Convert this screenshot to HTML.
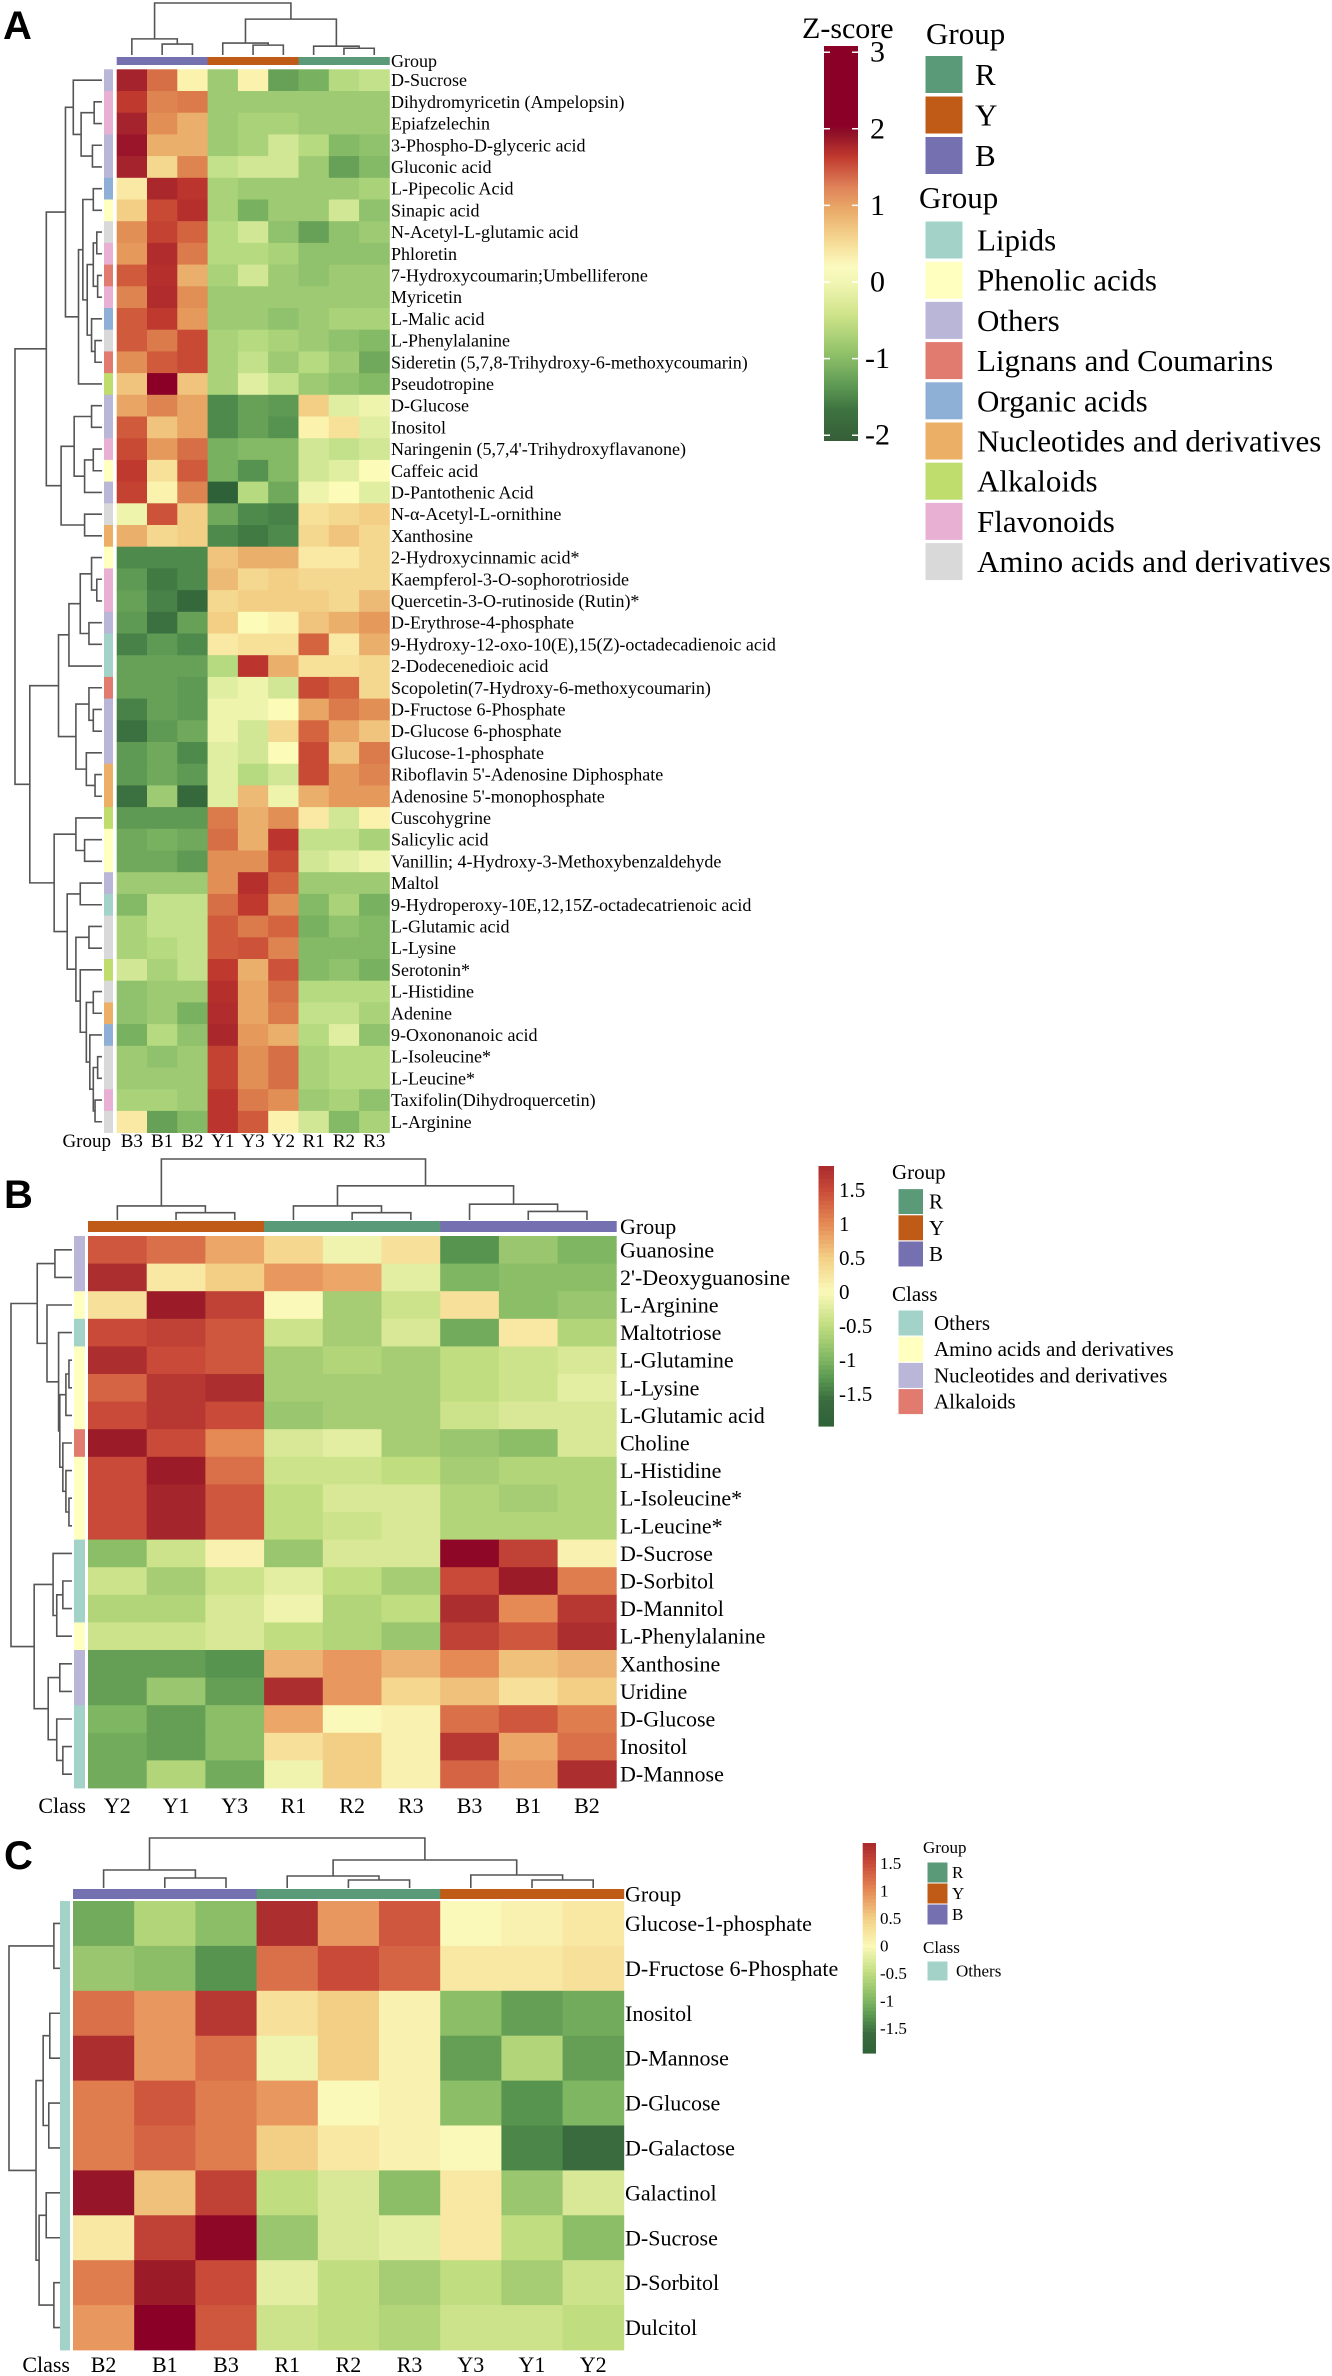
<!DOCTYPE html>
<html><head><meta charset="utf-8"><title>Metabolite heatmaps</title>
<style>
html,body{margin:0;padding:0;background:#fff;}
svg{display:block;}
text{font-family:"Liberation Serif","DejaVu Serif",serif;fill:#000;}
.pl{font-family:"Liberation Sans",Arial,sans-serif;font-weight:bold;}
</style></head>
<body>
<svg id="fig" xmlns="http://www.w3.org/2000/svg" width="1332" height="2376" viewBox="0 0 1332 2376">
<defs>
<linearGradient id="gradA" x1="0" y1="0" x2="0" y2="1">
<stop offset="0" stop-color="#8b0027"/><stop offset="0.2" stop-color="#8b0027"/>
<stop offset="0.22" stop-color="#8f1028"/><stop offset="0.28" stop-color="#c0392e"/>
<stop offset="0.36" stop-color="#e0855a"/><stop offset="0.42" stop-color="#eaae6a"/>
<stop offset="0.5" stop-color="#f6dd98"/><stop offset="0.56" stop-color="#fbfbc0"/>
<stop offset="0.6" stop-color="#f1f6b2"/><stop offset="0.68" stop-color="#cfe48a"/>
<stop offset="0.78" stop-color="#8fc168"/><stop offset="0.86" stop-color="#5e9a55"/>
<stop offset="0.92" stop-color="#3e7340"/><stop offset="1" stop-color="#355e38"/>
</linearGradient>
</defs>
<text class="pl" x="3" y="39" font-size="40">A</text>
<text class="pl" x="4" y="1208" font-size="40">B</text>
<text class="pl" x="4" y="1869" font-size="40">C</text>
</svg>
<script>
// ---------- Panel A data ----------
const aCols = ["B3","B1","B2","Y1","Y3","Y2","R1","R2","R3"];
const aColGroups = ["B","B","B","Y","Y","Y","R","R","R"];
const aRows = ["D-Sucrose","Dihydromyricetin (Ampelopsin)","Epiafzelechin","3-Phospho-D-glyceric acid","Gluconic acid","L-Pipecolic Acid","Sinapic acid","N-Acetyl-L-glutamic acid","Phloretin","7-Hydroxycoumarin;Umbelliferone","Myricetin","L-Malic acid","L-Phenylalanine","Sideretin (5,7,8-Trihydroxy-6-methoxycoumarin)","Pseudotropine","D-Glucose","Inositol","Naringenin (5,7,4'-Trihydroxyflavanone)","Caffeic acid","D-Pantothenic Acid","N-α-Acetyl-L-ornithine","Xanthosine","2-Hydroxycinnamic acid*","Kaempferol-3-O-sophorotrioside","Quercetin-3-O-rutinoside (Rutin)*","D-Erythrose-4-phosphate","9-Hydroxy-12-oxo-10(E),15(Z)-octadecadienoic acid","2-Dodecenedioic acid","Scopoletin(7-Hydroxy-6-methoxycoumarin)","D-Fructose 6-Phosphate","D-Glucose 6-phosphate","Glucose-1-phosphate","Riboflavin 5'-Adenosine Diphosphate","Adenosine 5'-monophosphate","Cuscohygrine","Salicylic acid","Vanillin; 4-Hydroxy-3-Methoxybenzaldehyde","Maltol","9-Hydroperoxy-10E,12,15Z-octadecatrienoic acid","L-Glutamic acid","L-Lysine","Serotonin*","L-Histidine","Adenine","9-Oxononanoic acid","L-Isoleucine*","L-Leucine*","Taxifolin(Dihydroquercetin)","L-Arginine"];
const aClass = ["Others","Flavonoids","Flavonoids","Others","Others","Organic acids","Phenolic acids","Amino acids and derivatives","Flavonoids","Lignans and Coumarins","Flavonoids","Organic acids","Amino acids and derivatives","Lignans and Coumarins","Alkaloids","Others","Others","Flavonoids","Phenolic acids","Others","Amino acids and derivatives","Nucleotides and derivatives","Phenolic acids","Flavonoids","Flavonoids","Others","Lipids","Lipids","Lignans and Coumarins","Others","Others","Others","Nucleotides and derivatives","Nucleotides and derivatives","Alkaloids","Phenolic acids","Phenolic acids","Others","Lipids","Amino acids and derivatives","Amino acids and derivatives","Alkaloids","Amino acids and derivatives","Nucleotides and derivatives","Organic acids","Amino acids and derivatives","Amino acids and derivatives","Flavonoids","Amino acids and derivatives"];
const aValues = [
[2.5,1.4,0.1,-0.7,0.1,-1.2,-1.0,-0.5,-0.4],
[2.0,1.2,1.3,-0.7,-0.7,-0.7,-0.7,-0.7,-0.7],
[2.5,1.1,0.8,-0.7,-0.6,-0.6,-0.7,-0.7,-0.7],
[2.7,0.8,0.8,-0.7,-0.6,-0.3,-0.5,-0.9,-0.8],
[2.5,0.4,1.2,-0.4,-0.3,-0.3,-0.7,-1.2,-0.9],
[0.2,2.4,2.1,-0.6,-0.7,-0.7,-0.7,-0.7,-0.6],
[0.5,1.8,2.2,-0.6,-1.0,-0.7,-0.7,-0.3,-0.8],
[1.1,1.9,1.5,-0.5,-0.3,-0.8,-1.2,-0.8,-0.7],
[1.0,2.3,1.3,-0.5,-0.5,-0.6,-0.8,-0.8,-0.8],
[1.6,2.2,0.8,-0.6,-0.3,-0.7,-0.8,-0.7,-0.7],
[1.2,2.3,1.1,-0.7,-0.7,-0.7,-0.7,-0.7,-0.7],
[1.6,2.0,1.0,-0.7,-0.7,-0.8,-0.7,-0.6,-0.6],
[1.6,1.3,1.8,-0.6,-0.5,-0.6,-0.7,-0.8,-0.9],
[1.1,1.6,1.8,-0.6,-0.4,-0.7,-0.5,-0.7,-1.1],
[0.6,3.0,0.6,-0.6,-0.2,-0.4,-0.7,-0.8,-0.9],
[0.9,1.2,0.9,-1.5,-1.2,-1.3,0.5,-0.2,-0.1],
[1.6,0.6,0.9,-1.5,-1.2,-1.4,0.1,0.3,-0.2],
[1.8,1.0,1.4,-1.0,-0.9,-0.9,-0.3,-0.4,-0.3],
[2.0,0.3,1.6,-1.0,-1.4,-0.9,-0.3,-0.2,0.0],
[1.9,0.1,1.2,-2.1,-0.5,-1.1,-0.1,0.0,-0.2],
[-0.1,1.7,0.5,-1.1,-1.5,-1.6,0.3,0.4,0.5],
[0.8,0.4,0.5,-1.5,-1.7,-1.5,0.4,0.6,0.4],
[-1.5,-1.5,-1.5,0.6,0.8,0.8,0.2,0.2,0.4],
[-1.3,-1.7,-1.5,0.7,0.4,0.5,0.4,0.4,0.4],
[-1.2,-1.6,-1.9,0.4,0.5,0.5,0.5,0.4,0.7],
[-1.3,-1.8,-1.2,0.5,0.0,0.1,0.6,0.8,1.0],
[-1.6,-1.3,-1.5,0.2,0.3,0.3,1.5,0.2,0.8],
[-1.2,-1.2,-1.2,-0.5,2.1,0.8,0.3,0.3,0.4],
[-1.2,-1.2,-1.3,-0.2,-0.1,-0.3,1.8,1.5,0.4],
[-1.6,-1.2,-1.3,-0.1,-0.1,0.0,0.9,1.3,1.1],
[-1.8,-1.3,-1.1,-0.1,-0.3,0.4,1.5,0.9,0.6],
[-1.3,-1.1,-1.5,-0.2,-0.3,0.0,1.8,0.6,1.3],
[-1.3,-1.1,-1.3,-0.2,-0.5,-0.3,1.8,1.0,1.2],
[-1.8,-0.7,-1.9,-0.2,0.7,-0.1,0.8,1.0,1.0],
[-1.3,-1.3,-1.3,1.3,0.8,1.1,0.2,-0.3,0.1],
[-1.1,-1.0,-1.1,1.4,0.8,2.1,-0.4,-0.4,-0.6],
[-1.1,-1.1,-1.3,1.1,1.1,1.8,-0.3,-0.2,-0.1],
[-0.7,-0.7,-0.7,1.1,2.2,1.5,-0.7,-0.7,-0.7],
[-0.9,-0.4,-0.4,1.4,2.0,1.1,-0.9,-0.6,-1.0],
[-0.6,-0.4,-0.4,1.6,1.3,1.5,-1.0,-0.8,-0.9],
[-0.6,-0.5,-0.4,1.6,1.7,1.2,-0.9,-0.9,-0.9],
[-0.3,-0.6,-0.4,2.0,0.8,1.7,-0.9,-0.8,-1.0],
[-0.8,-0.7,-0.7,2.2,0.9,1.4,-0.5,-0.5,-0.5],
[-0.8,-0.7,-1.0,2.3,0.9,1.3,-0.4,-0.4,-0.6],
[-1.0,-0.5,-0.8,2.4,1.0,0.8,-0.5,-0.2,-0.8],
[-0.7,-0.8,-0.7,1.9,1.1,1.4,-0.6,-0.5,-0.5],
[-0.7,-0.7,-0.7,1.9,1.1,1.4,-0.6,-0.5,-0.5],
[-0.6,-0.6,-0.7,2.1,1.3,1.1,-0.7,-0.6,-0.8],
[0.2,-1.2,-0.9,2.1,1.6,0.1,-0.3,-0.9,-0.6]];
const aColTree = [1.0,[0.31,0,[0.21,1,2]],[0.69,[0.23,3,[0.19,4,5]],[0.17,6,[0.13,7,8]]]];
const aRowTree = [1.0,
  [0.64,[0.42,[0.33,0,[0.24,[0.09,1,2],[0.11,3,4]]],[0.27,[0.22,[0.1,5,6],[0.17,[0.1,[0.06,7,8],[0.05,9,10]],[0.12,11,[0.08,12,13]]]],14]],
        [0.47,[0.32,[0.12,15,16],[0.2,[0.1,17,18],19]],[0.2,20,21]]],
  [0.83,[0.5,[0.38,[0.25,[0.12,22,[0.06,23,24]],[0.15,25,26]],27],[0.3,[0.15,28,[0.1,29,30]],[0.18,31,[0.08,32,33]]]],
        [0.55,[0.3,34,[0.2,35,36]],[0.4,[0.25,37,38],[0.3,[0.15,39,40],[0.25,41,[0.18,[0.1,42,43],[0.14,44,[0.1,[0.05,45,46],[0.08,47,48]]]]]]]]]];

// ---------- Panel B data ----------
const bCols = ["Y2","Y1","Y3","R1","R2","R3","B3","B1","B2"];
const bColGroups = ["Y","Y","Y","R","R","R","B","B","B"];
const bRows = ["Guanosine","2'-Deoxyguanosine","L-Arginine","Maltotriose","L-Glutamine","L-Lysine","L-Glutamic acid","Choline","L-Histidine","L-Isoleucine*","L-Leucine*","D-Sucrose","D-Sorbitol","D-Mannitol","L-Phenylalanine","Xanthosine","Uridine","D-Glucose","Inositol","D-Mannose"];
const bClass = ["Nucleotides and derivatives","Nucleotides and derivatives","Amino acids and derivatives","Others","Amino acids and derivatives","Amino acids and derivatives","Amino acids and derivatives","Alkaloids","Amino acids and derivatives","Amino acids and derivatives","Amino acids and derivatives","Others","Others","Others","Amino acids and derivatives","Nucleotides and derivatives","Nucleotides and derivatives","Others","Others","Others"];
const bValues = [
[1.4,1.2,0.8,0.4,-0.1,0.3,-1.3,-0.8,-1.0],
[1.8,0.2,0.5,0.9,0.8,-0.2,-1.0,-0.9,-0.9],
[0.3,2.0,1.6,0.0,-0.7,-0.4,0.3,-0.9,-0.8],
[1.5,1.6,1.4,-0.4,-0.7,-0.3,-1.1,0.2,-0.6],
[1.8,1.5,1.4,-0.7,-0.6,-0.7,-0.5,-0.4,-0.3],
[1.3,1.7,1.8,-0.7,-0.7,-0.7,-0.5,-0.4,-0.2],
[1.5,1.7,1.5,-0.8,-0.7,-0.7,-0.4,-0.3,-0.3],
[2.0,1.5,1.0,-0.3,-0.2,-0.7,-0.8,-0.9,-0.3],
[1.5,2.0,1.2,-0.4,-0.4,-0.5,-0.7,-0.6,-0.6],
[1.5,1.9,1.4,-0.5,-0.3,-0.3,-0.6,-0.7,-0.6],
[1.5,1.9,1.4,-0.5,-0.4,-0.3,-0.6,-0.6,-0.6],
[-0.9,-0.4,0.1,-0.8,-0.3,-0.3,2.3,1.6,0.1],
[-0.4,-0.7,-0.4,-0.2,-0.5,-0.7,1.5,2.0,1.1],
[-0.6,-0.6,-0.3,-0.1,-0.6,-0.5,1.8,1.0,1.7],
[-0.4,-0.4,-0.3,-0.5,-0.6,-0.8,1.6,1.4,1.8],
[-1.2,-1.2,-1.3,0.7,0.9,0.7,1.0,0.6,0.7],
[-1.2,-0.8,-1.2,1.8,0.9,0.4,0.6,0.3,0.5],
[-1.0,-1.2,-0.9,0.8,0.0,0.1,1.2,1.4,1.1],
[-1.1,-1.2,-0.9,0.3,0.5,0.1,1.7,0.8,1.2],
[-1.1,-0.6,-1.1,-0.1,0.5,0.1,1.3,0.9,1.8]];
const bColTree = [1.0,[0.23,0,[0.12,1,2]],[0.56,[0.23,3,[0.12,4,5]],[0.26,6,[0.14,7,8]]]];
const bRowTree = [1.0,
  [0.57,[0.28,0,1],[0.41,2,[0.22,3,[0.2,[0.1,[0.05,4,5],6],[0.15,7,[0.1,8,[0.05,9,10]]]]]]],
  [0.62,[0.31,11,[0.25,[0.15,12,13],14]],[0.39,[0.2,15,16],[0.25,17,[0.15,18,19]]]]];
const bTicks = [1.5,1,0.5,0,-0.5,-1,-1.5];
const bTickLabels = ["1.5","1","0.5","0","-0.5","-1","-1.5"];

// ---------- Panel C data ----------
const cCols = ["B2","B1","B3","R1","R2","R3","Y3","Y1","Y2"];
const cColGroups = ["B","B","B","R","R","R","Y","Y","Y"];
const cRows = ["Glucose-1-phosphate","D-Fructose 6-Phosphate","Inositol","D-Mannose","D-Glucose","D-Galactose","Galactinol","D-Sucrose","D-Sorbitol","Dulcitol"];
const cValues = [
[-1.1,-0.6,-0.9,1.8,0.9,1.4,0.0,0.1,0.2],
[-0.8,-0.9,-1.3,1.2,1.5,1.3,0.2,0.2,0.3],
[1.2,0.9,1.7,0.3,0.5,0.1,-0.9,-1.2,-1.1],
[1.8,0.9,1.2,-0.1,0.5,0.1,-1.2,-0.6,-1.2],
[1.1,1.4,1.1,0.9,0.0,0.1,-0.9,-1.3,-1.0],
[1.1,1.3,1.1,0.5,0.2,0.1,0.0,-1.4,-1.6],
[2.1,0.6,1.6,-0.5,-0.3,-0.9,0.2,-0.8,-0.3],
[0.2,1.6,2.3,-0.8,-0.3,-0.2,0.2,-0.5,-0.9],
[1.1,2.0,1.5,-0.2,-0.5,-0.7,-0.5,-0.7,-0.4],
[0.9,2.4,1.4,-0.4,-0.5,-0.6,-0.4,-0.4,-0.5]];
const cColTree = [1.0,[0.36,0,[0.2,1,2]],[0.56,[0.24,3,[0.16,4,5]],[0.26,6,[0.16,7,8]]]];
const cRowTree = [1.0,[0.12,0,1],[0.47,[0.33,[0.2,2,3],[0.22,4,5]],[0.41,[0.27,6,7],[0.12,8,9]]]];
const cTicks = [1.5,1,0.5,0,-0.5,-1,-1.5];
const cTickLabels = ["1.5","1","0.5","0","-0.5","-1","-1.5"];

// ---------- Legend data ----------
const aTicks = [3,2,1,0,-1,-2];
const aTickLabels = ["3","2","1","0","-1","-2"];
const groupNames = ["R","Y","B"];
const aClassNames = ["Lipids","Phenolic acids","Others","Lignans and Coumarins","Organic acids","Nucleotides and derivatives","Alkaloids","Flavonoids","Amino acids and derivatives"];
const bClassNames = ["Others","Amino acids and derivatives","Nucleotides and derivatives","Alkaloids"];
const cClassNames = ["Others"];

// ---------- styling ----------
const GROUP_COLOR = {R:"#5b9a78",Y:"#bf5b17",B:"#7570b0"};
const CLASS_A = {"Lipids":"#a3d3c8","Phenolic acids":"#ffffbf","Others":"#b9b6d8","Lignans and Coumarins":"#e17a6f","Organic acids":"#8fb0d6","Nucleotides and derivatives":"#ebb066","Alkaloids":"#bedd6c","Flavonoids":"#e8b1d4","Amino acids and derivatives":"#d9d9d9"};
const CLASS_B = {"Others":"#a3d3c8","Amino acids and derivatives":"#ffffbf","Nucleotides and derivatives":"#b9b6d8","Alkaloids":"#e17a6f"};
const STOPS_A = [[-2,"#2f6138"],[-1.5,"#4e8a4c"],[-1,"#78b15f"],[-0.5,"#b5da7f"],[0,"#fdfbb8"],[0.5,"#f3cf85"],[1,"#e59a5c"],[1.5,"#d46440"],[2,"#c0392e"],[2.5,"#a5232c"],[3,"#8a0027"]];
const STOPS_BC = [[-2,"#2f6138"],[-1.6,"#3a6b3e"],[-1.3,"#57944f"],[-1,"#7fb662"],[-0.5,"#c0dd80"],[0,"#fbf9b9"],[0.5,"#f3cf85"],[1,"#e58a55"],[1.5,"#c94a38"],[2,"#9b1c28"],[2.4,"#8a0027"]];

const NS = "http://www.w3.org/2000/svg";
const svg = document.getElementById("fig");
function mk(tag, attrs, parent){
  const el = document.createElementNS(NS, tag);
  for (const k in attrs) el.setAttribute(k, attrs[k]);
  (parent||svg).appendChild(el);
  return el;
}
function hex(c){return [parseInt(c.slice(1,3),16),parseInt(c.slice(3,5),16),parseInt(c.slice(5,7),16)];}
function colorOf(v, stops){
  if (v<=stops[0][0]) return stops[0][1];
  for (let i=1;i<stops.length;i++){
    if (v<=stops[i][0]){
      const t=(v-stops[i-1][0])/(stops[i][0]-stops[i-1][0]);
      const a=hex(stops[i-1][1]), b=hex(stops[i][1]);
      return "rgb("+a.map((x,j)=>Math.round(x+(b[j]-x)*t)).join(",")+")";
    }
  }
  return stops[stops.length-1][1];
}

// dendrogram: tree nodes [h, left, right], leaves are indices
function dendro(node, leafPos, hPos, orient, g){
  if (typeof node === "number") return {p: leafPos(node), q: hPos(0)};
  const L = dendro(node[1], leafPos, hPos, orient, g);
  const R = dendro(node[2], leafPos, hPos, orient, g);
  const q = hPos(node[0]);
  let d;
  if (orient==="col") d = `M${L.p},${L.q}V${q}H${R.p}V${R.q}`;
  else d = `M${L.q},${L.p}H${q}V${R.p}H${R.q}`;
  const path = mk("path",{d:d,fill:"none",stroke:"#555","stroke-width":1.6},g);
  
  
  return {p:(L.p+R.p)/2, q:q};
}

function heatmap(cfg){
  const g = mk("g",{});
  
  
  const xCol = i => cfg.x0 + i*cfg.cw;
  const yRow = j => cfg.y0 + j*cfg.rh;
  // cells
  cfg.values.forEach((row,j)=>{
    row.forEach((v,i)=>{
      const r = mk("rect",{x:xCol(i),y:yRow(j),width:cfg.cw+0.4,height:cfg.rh+0.4,fill:colorOf(v,cfg.stops)},g);
      
      
    });
  });
  // separator line between groups (white)
  // group bar
  cfg.colGroups.forEach((gr,i)=>{
    const r = mk("rect",{x:xCol(i),y:cfg.gy0,width:cfg.cw+0.4,height:cfg.gy1-cfg.gy0,fill:GROUP_COLOR[gr]},g);
    
    
  });
  // class strip
  cfg.classes.forEach((c,j)=>{
    const r = mk("rect",{x:cfg.sx0,y:yRow(j),width:cfg.sx1-cfg.sx0,height:cfg.rh+0.4,fill:cfg.classColor[c]},g);
    
    
  });
  // row labels
  cfg.rows.forEach((name,j)=>{
    const t = mk("text",{x:cfg.lx,y:yRow(j)+cfg.rh/2,"font-size":cfg.fs,"dominant-baseline":"central"},g);
    t.textContent = name;
    
    
  });
  const gl = mk("text",{x:cfg.lx,y:(cfg.gy0+cfg.gy1)/2,"font-size":cfg.fs,"dominant-baseline":"central"},g);
  gl.textContent = "Group";
  
  
  // column labels
  cfg.cols.forEach((name,i)=>{
    const t = mk("text",{x:xCol(i)+cfg.cw/2,y:cfg.cly,"font-size":cfg.cfs,"text-anchor":"middle"},g);
    t.textContent = name;
    
    
  });
  const cl = mk("text",{x:cfg.clx,y:cfg.cly,"font-size":cfg.cfs,"text-anchor":"end"},g);
  cl.textContent = cfg.stripLabel;
  
  
  // dendrograms
  dendro(cfg.colTree, i=>xCol(i)+cfg.cw/2, h=>cfg.cdBottom-h*(cfg.cdBottom-cfg.cdTop), "col", g);
  dendro(cfg.rowTree, j=>yRow(j)+cfg.rh/2, h=>cfg.rdLeaf-h*(cfg.rdLeaf-cfg.rdRoot), "row", g);
}

heatmap({name:"heatmap-a",values:aValues,rows:aRows,cols:aCols,colGroups:aColGroups,classes:aClass,classColor:CLASS_A,stops:STOPS_A,
  x0:116.7,cw:30.3,y0:69.3,rh:21.7,gy0:57,gy1:65,sx0:104,sx1:113,lx:391,fs:18,cfs:19,cly:1147,clx:111,stripLabel:"Group",
  colTree:aColTree,rowTree:aRowTree,cdTop:3,cdBottom:55,rdLeaf:102,rdRoot:15});
heatmap({name:"heatmap-b",values:bValues,rows:bRows,cols:bCols,colGroups:bColGroups,classes:bClass,classColor:CLASS_B,stops:STOPS_BC,
  x0:88,cw:58.7,y0:1236,rh:27.6,gy0:1221,gy1:1232,sx0:74,sx1:85,lx:620,fs:22,cfs:22,cly:1813,clx:86,stripLabel:"Class",
  colTree:bColTree,rowTree:bRowTree,cdTop:1159,cdBottom:1220,rdLeaf:72,rdRoot:11});
heatmap({name:"heatmap-c",values:cValues,rows:cRows,cols:cCols,colGroups:cColGroups,classes:cRows.map(()=>"Others"),classColor:CLASS_B,stops:STOPS_BC,
  x0:73,cw:61.2,y0:1901,rh:44.9,gy0:1889,gy1:1899,sx0:60,sx1:70,lx:625,fs:22,cfs:22,cly:2372,clx:70,stripLabel:"Class",
  colTree:cColTree,rowTree:cRowTree,cdTop:1838,cdBottom:1888,rdLeaf:60,rdRoot:9});

// ---------- Legends ----------
function swatchList(names, colors, x, y0, step, w, h, lx, fs, name){
  names.forEach((n,i)=>{
    const r = mk("rect",{x:x,y:y0+i*step,width:w,height:h,fill:colors[n],stroke:"#fff","stroke-width":1});
    
    
    const t = mk("text",{x:lx,y:y0+i*step+h/2,"font-size":fs,"dominant-baseline":"central"});
    t.textContent = n;
    
    
  });
}
function title(txt,x,y,fs,name){
  const t = mk("text",{x:x,y:y,"font-size":fs});
  t.textContent = txt;
  
  
}
// A colorbar
title("Z-score",802,38,30,"zscore-title");
const barA = mk("rect",{x:824,y:46,width:34,height:395,fill:"url(#gradA)"});


const yA = v => 282 - v*76.6;
aTicks.forEach((v,i)=>{
  const d1 = mk("path",{d:`M824,${yA(v)}h6M852,${yA(v)}h6`,stroke:"#fff","stroke-width":1.5});
  
  
  const t = mk("text",{x:aTickLabels[i].length>1?865:870,y:yA(v),"font-size":30,"dominant-baseline":"central"});
  t.textContent = aTickLabels[i];
  
  
});
title("Group",926,44,31,"legend-a-group-title");
swatchList(groupNames,GROUP_COLOR,925,55.5,40.5,38,38,975,31,"legend-a-group");
title("Group",919,208,31,"legend-a-class-title");
swatchList(aClassNames,CLASS_A,925,221,40.2,38,38,977,31,"legend-a-class");

// B/C colorbars drawn from the panel colour scale
function colorbar(x,y0,y1,w,vTop,vBot,ticks,labels,lx,fs,name){
  const n=60;
  for(let k=0;k<n;k++){
    const v = vTop + (vBot-vTop)*(k+0.5)/n;
    const r = mk("rect",{x:x,y:y0+(y1-y0)*k/n,width:w,height:(y1-y0)/n+0.6,fill:colorOf(v,STOPS_BC)});
    
    
  }
  ticks.forEach((v,i)=>{
    const y = y0 + (vTop-v)/(vTop-vBot)*(y1-y0);
    const t = mk("text",{x:lx,y:y,"font-size":fs,"dominant-baseline":"central"});
    t.textContent = labels[i];
    
    
  });
}
colorbar(818.5,1166,1426,15.5,1.85,-1.97,bTicks,bTickLabels,839,21,"colorbar-b");
title("Group",892,1179,21,"legend-b-group-title");
swatchList(groupNames,GROUP_COLOR,898,1188.6,26.2,25.5,26,929,21,"legend-b-group");
title("Class",892,1301,21,"legend-b-class-title");
swatchList(bClassNames,CLASS_B,898,1310,26.2,25.5,26,934,21,"legend-b-class");

colorbar(862.7,1843,2053,13.3,1.87,-1.95,cTicks,cTickLabels,880,17,"colorbar-c");
title("Group",923,1853,17,"legend-c-group-title");
swatchList(groupNames,GROUP_COLOR,927,1862,21,21,21,952,17,"legend-c-group");
title("Class",923,1953,17,"legend-c-class-title");
swatchList(cClassNames,CLASS_B,927,1961,21,21,20,956,17,"legend-c-class");
</script>
</body></html>
